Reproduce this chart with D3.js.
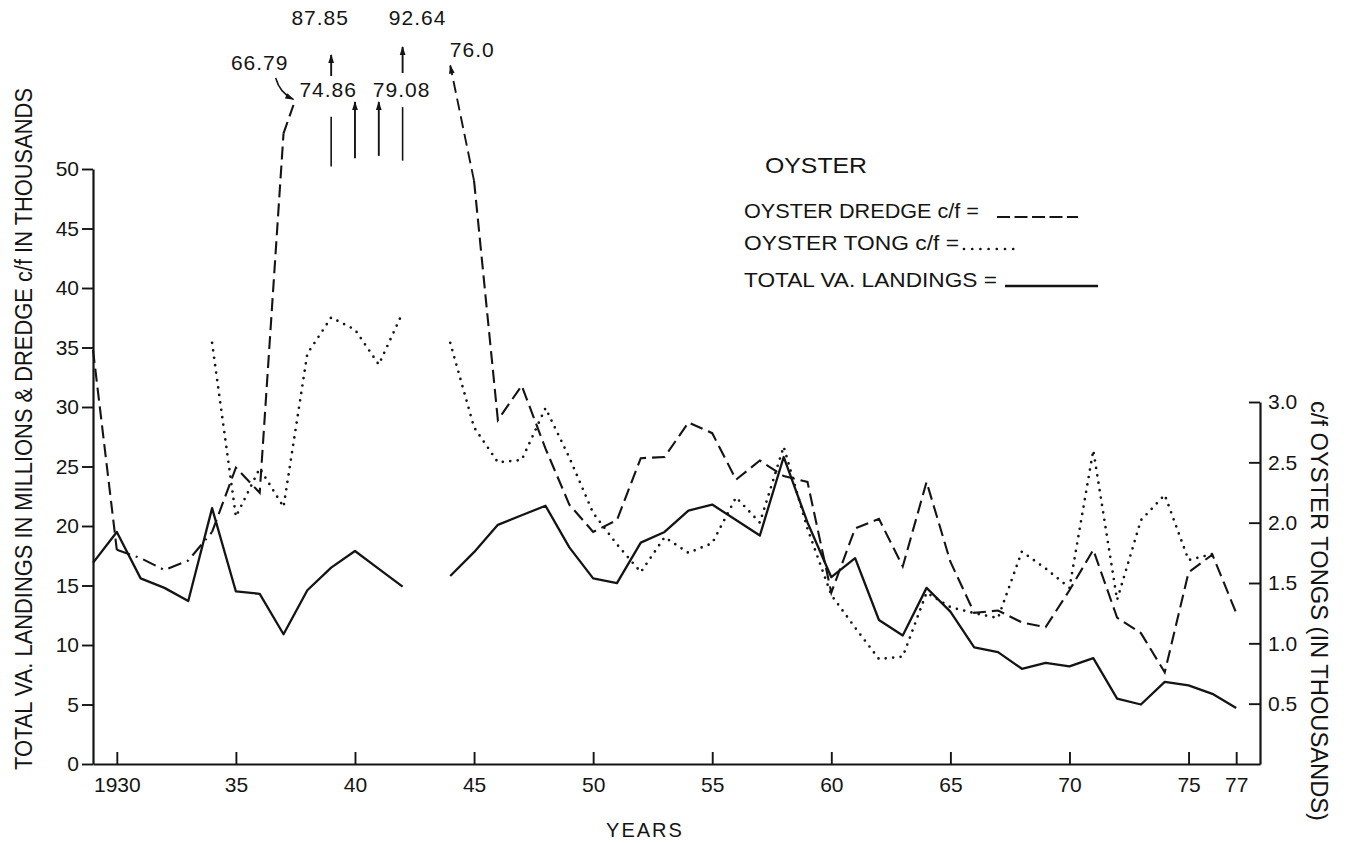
<!DOCTYPE html>
<html>
<head>
<meta charset="utf-8">
<script src="https://cdn.jsdelivr.net/npm/d3@7"></script>
<style>
  html, body { margin: 0; padding: 0; background: #ffffff; }
  svg text { font-family: "Liberation Sans", Arial, sans-serif; fill: #141414; }
</style>
</head>
<body>
<svg id="chart" width="1346" height="843"></svg>
<script>
// ---------------- DATA ----------------
const years = d3.range(1929, 1978);   // 1929 … 1977

// Total Virginia landings, millions of lbs (left axis)
const landings = [
  16.9, 19.5, 15.6, 14.8, 13.7, 21.5, 14.5, 14.3, 10.9, 14.6,
  16.5, 17.9, 16.4, 14.9, null, 15.8, 17.8, 20.1, 20.9, 21.7,
  18.2, 15.6, 15.2, 18.6, 19.5, 21.3, 21.8, 20.5, 19.2, 25.8,
  20.3, 15.7, 17.3, 12.1, 10.8, 14.8, 12.8, 9.8, 9.4, 8.0,
  8.5, 8.2, 8.9, 5.5, 5.0, 6.9, 6.6, 5.9, 4.7
];

// Oyster dredge catch/effort, thousands (left axis); values above 50 are off-scale
const dredgeCF = [
  34.8, 18.0, 17.3, 16.3, 17.1, 19.5, 24.9, 22.8, 53.0, 66.79,
  87.85, 74.86, 79.08, 92.64, null, 76.0, 49.0, 28.9, 31.8, 26.5,
  21.8, 19.5, 20.5, 25.7, 25.8, 28.7, 27.8, 23.9, 25.5, 24.2,
  23.7, 14.4, 19.8, 20.6, 16.6, 23.7, 17.0, 12.7, 12.9, 11.9,
  11.5, 14.6, 18.0, 12.3, 11.0, 7.7, 16.1, 17.6, 12.7
];
// years of the dredge series drawn dash-dot (estimated stretch)
const dredgeDashDotRange = [1930, 1934];
// printed labels of the off-scale dredge values
const offscaleYears  = [1938, 1939, 1940, 1941, 1942, 1944];
const offscaleLabels = ["66.79", "87.85", "74.86", "79.08", "92.64", "76.0"];

// Oyster tong catch/effort, thousands (right axis)
const tongCF = [
  null, null, null, null, null, 3.49, 2.05, 2.45, 2.13, 3.40,
  3.70, 3.60, 3.31, 3.74, null, 3.49, 2.79, 2.50, 2.52, 2.95,
  2.54, 2.08, 1.82, 1.59, 1.88, 1.75, 1.83, 2.21, 2.00, 2.63,
  1.95, 1.40, 1.13, 0.87, 0.89, 1.42, 1.30, 1.25, 1.21, 1.76,
  1.62, 1.46, 2.60, 1.36, 2.02, 2.23, 1.69, 1.74, null
];

const xTickValues = [1930, 1935, 1940, 1945, 1950, 1955, 1960, 1965, 1970, 1975, 1977];
const leftTickValues = [0, 5, 10, 15, 20, 25, 30, 35, 40, 45, 50];
const rightTickValues = [0.5, 1.0, 1.5, 2.0, 2.5, 3.0];

const chartTitle = "OYSTER";
const legendLabels = ["OYSTER DREDGE c/f =", "OYSTER TONG c/f =", "TOTAL VA. LANDINGS ="];
const leftTitle = "TOTAL VA. LANDINGS IN MILLIONS & DREDGE c/f IN THOUSANDS";
const rightTitle = "c/f  OYSTER TONGS  (IN THOUSANDS)";
const xTitle = "YEARS";

// ---------------- LAYOUT ----------------
const svg = d3.select("#chart");
const INK = "#141414";

const x  = d3.scaleLinear().domain([1929, 1978]).range([93, 1260]);
const yL = d3.scaleLinear().domain([0, 50]).range([764, 169]);
const yR = d3.scaleLinear().domain([0, 3]).range([764, 402]);

const defs = svg.append("defs");
defs.append("marker")
  .attr("id", "ah").attr("viewBox", "0 0 10 10")
  .attr("refX", 9).attr("refY", 5)
  .attr("markerWidth", 10).attr("markerHeight", 9)
  .attr("markerUnits", "userSpaceOnUse").attr("orient", "auto")
  .append("path").attr("d", "M0,1.8 L10,5 L0,8.2 Z").attr("fill", INK);

// ---------------- AXES ----------------
function styleAxis(g) {
  g.select(".domain").attr("stroke", INK).attr("stroke-width", 2.2);
  g.selectAll(".tick line").attr("stroke", INK).attr("stroke-width", 1.9);
  g.selectAll(".tick text").attr("fill", INK)
    .style("font-size", "21px").style("font-family", '"Liberation Sans", Arial, sans-serif');
}

svg.append("g").attr("transform", `translate(${x(1929)},0)`)
  .call(d3.axisLeft(yL).tickValues(leftTickValues).tickSize(11).tickSizeOuter(0).tickPadding(3)
        .tickFormat(d3.format("d")))
  .call(styleAxis);

svg.append("g").attr("transform", `translate(0,${yL(0)})`)
  .call(d3.axisBottom(x).tickValues(xTickValues).tickSize(-12).tickSizeOuter(0).tickPadding(13)
        .tickFormat(d => d === 1930 ? "1930" : String(d % 100)))
  .call(styleAxis);

svg.append("g").attr("transform", `translate(${x(1978)},0)`)
  .call(d3.axisRight(yR).tickValues(rightTickValues).tickSize(-11).tickSizeOuter(0).tickPadding(8)
        .tickFormat(d3.format(".1f")))
  .call(styleAxis);

// axis titles
svg.append("text")
  .attr("transform", `translate(32,429) rotate(-90)`)
  .attr("text-anchor", "middle")
  .attr("textLength", 682).attr("lengthAdjust", "spacingAndGlyphs")
  .style("font-size", "23px")
  .text(leftTitle);

svg.append("text")
  .attr("transform", `translate(1311,611) rotate(90)`)
  .attr("text-anchor", "middle")
  .attr("textLength", 420).attr("lengthAdjust", "spacingAndGlyphs")
  .style("font-size", "24px")
  .text(rightTitle);

svg.append("text")
  .attr("x", 645).attr("y", 837)
  .attr("text-anchor", "middle")
  .style("font-size", "20px").style("letter-spacing", "2px")
  .text(xTitle);

// ---------------- SERIES ----------------
const landPts  = years.map((yr, i) => ({ year: yr, v: landings[i] }));
const dredgePts = years.map((yr, i) => ({ year: yr, v: dredgeCF[i] }));
const tongPts  = years.map((yr, i) => ({ year: yr, v: tongCF[i] }));

const inDashDot = d => d.year > dredgeDashDotRange[0] && d.year < dredgeDashDotRange[1];
const onScale = d => d.v != null && d.v <= 55;

// solid: total landings
svg.append("path")
  .datum(landPts)
  .attr("fill", "none").attr("stroke", INK).attr("stroke-width", 2.3)
  .attr("stroke-linejoin", "round")
  .attr("d", d3.line().defined(d => d.v != null).x(d => x(d.year)).y(d => yL(d.v)));

// dashed: dredge c/f
svg.append("path")
  .datum(dredgePts)
  .attr("fill", "none").attr("stroke", INK).attr("stroke-width", 2.1)
  .attr("stroke-dasharray", "13,6")
  .attr("d", d3.line().defined(d => onScale(d) && !inDashDot(d)).x(d => x(d.year)).y(d => yL(d.v)));

// dash-dot stretch of dredge c/f
svg.append("path")
  .datum(dredgePts.filter(d => d.year >= dredgeDashDotRange[0] && d.year <= dredgeDashDotRange[1]))
  .attr("fill", "none").attr("stroke", INK).attr("stroke-width", 2.1)
  .attr("stroke-dasharray", "14,6,2,6")
  .attr("d", d3.line().x(d => x(d.year)).y(d => yL(d.v)));

// dotted: tong c/f
svg.append("path")
  .datum(tongPts)
  .attr("fill", "none").attr("stroke", INK).attr("stroke-width", 2.7)
  .attr("stroke-linecap", "round").attr("stroke-dasharray", "0,7.5")
  .attr("d", d3.line().defined(d => d.v != null).x(d => x(d.year)).y(d => yR(d.v)));

// ---------------- OFF-SCALE DREDGE ANNOTATIONS ----------------
const yCap = yL(58.7);
const byYear = yr => dredgePts.find(d => d.year === yr);
const ann = svg.append("g");

function arrowLine(x1, y1, x2, y2, dashed) {
  const l = ann.append("line")
    .attr("x1", x1).attr("y1", y1).attr("x2", x2).attr("y2", y2)
    .attr("stroke", INK).attr("stroke-width", 1.9)
    .attr("marker-end", "url(#ah)");
  if (dashed) l.attr("stroke-dasharray", "12,6");
  return l;
}
function plainLine(x1, y1, x2, y2) {
  ann.append("line").attr("x1", x1).attr("y1", y1).attr("x2", x2).attr("y2", y2)
    .attr("stroke", INK).attr("stroke-width", 1.6);
}
function label(txt, cx, base) {
  ann.append("text").attr("x", cx).attr("y", base).attr("text-anchor", "middle")
    .style("font-size", "21px").style("letter-spacing", "1px").text(txt);
}
const lab = yr => offscaleLabels[offscaleYears.indexOf(yr)];

// 1937 -> 1938 : dashed rise leaving the chart
{
  const a = byYear(1937), b = byYear(1938);
  const ax = x(a.year), ay = yL(a.v), bx = x(b.year);
  const mx = ax + (bx - ax) * 0.5, my = ay + (yCap - ay) * 0.5;
  ann.append("line").attr("x1", ax).attr("y1", ay).attr("x2", mx).attr("y2", my)
    .attr("stroke", INK).attr("stroke-width", 2.1).attr("stroke-dasharray", "12,6");
  label(lab(1938), x(1936), 70);
  ann.append("path")
    .attr("d", `M${x(1936) + 16},78 Q${x(1936) + 20},93 ${mx - 2},${my}`)
    .attr("fill", "none").attr("stroke", INK).attr("stroke-width", 1.6)
    .attr("marker-end", "url(#ah)");
}
// 1939
plainLine(x(1939), yL(50.2), x(1939), yL(54.4));
arrowLine(x(1939), 76, x(1939), 55);
label(lab(1939), x(1939) - 11, 25);
// 1940
arrowLine(x(1940), yL(50.9), x(1940), 102);
label(lab(1940), x(1939) - 3, 97);
// 1941
arrowLine(x(1941), yL(51.1), x(1941), 102);
label(lab(1941), x(1942) - 1, 97);
// 1942
plainLine(x(1942), yL(50.7), x(1942), yL(55.2));
arrowLine(x(1942), 73, x(1942), 47);
label(lab(1942), x(1942) + 15, 25);
// 1945 -> 1944 : dashed descent from off-scale value
{
  const a = byYear(1945);
  arrowLine(x(a.year), yL(a.v), x(1944), yCap, true);
  label(lab(1944), x(1944) + 22, 57);
}

// ---------------- LEGEND ----------------
const leg = svg.append("g");
leg.append("text").attr("x", 765).attr("y", 173)
  .attr("textLength", 102).attr("lengthAdjust", "spacingAndGlyphs")
  .style("font-size", "22px").text(chartTitle);

const legRows = [
  { y: 218, w: 235, x0: 997, x1: 1078, dash: "13,4.5", width: 2.1, cap: "butt" },
  { y: 250, w: 215, x0: 964, x1: 1020, dash: "0,8.2", width: 2.7, cap: "round" },
  { y: 287, w: 253, x0: 1005, x1: 1098, dash: null, width: 2.3, cap: "butt" }
];
legRows.forEach((r, i) => {
  leg.append("text").attr("x", 744).attr("y", r.y)
    .attr("textLength", r.w).attr("lengthAdjust", "spacingAndGlyphs")
    .style("font-size", "21px").text(legendLabels[i]);
  const ln = leg.append("line")
    .attr("x1", r.x0).attr("x2", r.x1).attr("y1", r.y - 1).attr("y2", r.y - 1)
    .attr("stroke", INK).attr("stroke-width", r.width).attr("stroke-linecap", r.cap);
  if (r.dash) ln.attr("stroke-dasharray", r.dash);
});
</script>
</body>
</html>
